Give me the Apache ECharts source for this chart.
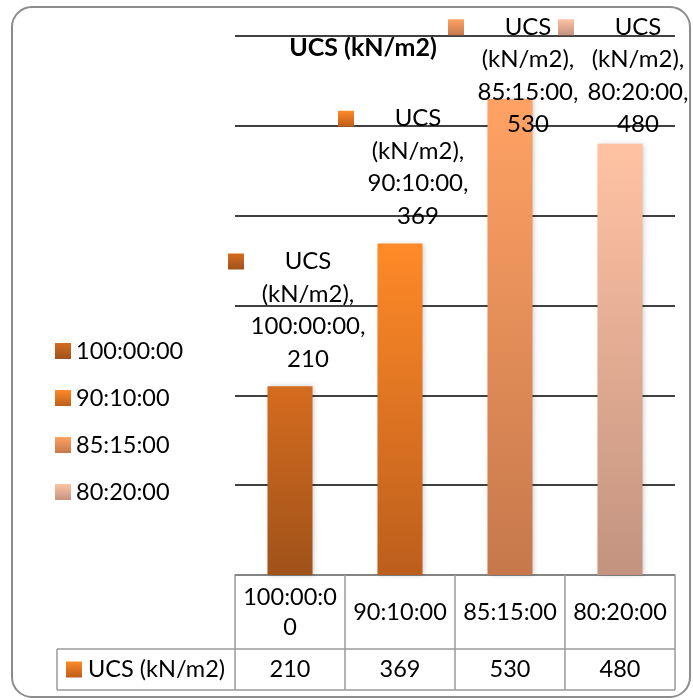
<!DOCTYPE html>
<html>
<head>
<meta charset="utf-8">
<script src="https://cdn.jsdelivr.net/npm/echarts@6/dist/echarts.min.js"></script>
<style>
  html, body { margin: 0; padding: 0; background: #fff; }
  #chart { width: 693px; height: 700px; }
</style>
</head>
<body>
<div id="chart"></div>
<script>
// Mix ratios and measured UCS values
const categories = ['100:00:00', '90:10:00', '85:15:00', '80:20:00'];
const ucsValues = [210, 369, 530, 480];
const measureName = 'UCS (kN/m2)';
const yMin = 0, yMax = 600, yStep = 100;

// top / bottom shades of each bar
const shades = [
  ['#D56C1F', '#A0521A'],
  ['#FF8A28', '#BC5E1C'],
  ['#FFA264', '#C6784C'],
  ['#FFC3A3', '#C39380']
];
const FONT = 'Lato, "Open Sans", sans-serif';
const LABEL_SIZE = 24;
const LABEL_LINE = 32.5;
const LABEL_LINES = 4;
const LABEL_GAP = 11;       // space between bar top and its label
const LABEL_MIN_TOP = 11;   // labels never rise above this

function grad(c) {
  return new echarts.graphic.LinearGradient(0, 0, 0, 1, [
    { offset: 0, color: c[0] }, { offset: 1, color: c[1] }
  ]);
}

const chart = echarts.init(document.getElementById('chart'), null, { renderer: 'canvas' });

const gridLeft = 235, gridRight = 18, gridTop = 36, gridBottom = 125;
const [nameHead, nameUnit] = measureName.split(' ');

function makeSeries(offsets) {
  return categories.map((cat, i) => ({
    name: cat,
    type: 'bar',
    stack: 'ucs',
    barWidth: 45,
    data: ucsValues.map((v, j) => (j === i ? v : '-')),
    itemStyle: {
      color: grad(shades[i]),
      shadowBlur: 5,
      shadowColor: 'rgba(0,0,0,0.22)',
      shadowOffsetX: 1,
      shadowOffsetY: 0
    },
    label: {
      show: true,
      position: 'top',
      distance: LABEL_GAP,
      offset: [18, offsets[i]],
      color: '#000',
      fontFamily: FONT,
      fontSize: LABEL_SIZE,
      lineHeight: LABEL_LINE,
      align: 'center',
      formatter: p => `{k|}{u|${nameHead}}{e|}\n${nameUnit},\n${p.name},\n${p.value}`,
      rich: {
        k: { width: 16, height: 16, backgroundColor: grad(shades[i]), verticalAlign: 'middle' },
        u: { width: 128, align: 'center', fontFamily: FONT, fontSize: LABEL_SIZE, color: '#000' },
        e: { width: 16 }
      }
    }
  }));
}

const option = {
  backgroundColor: '#fff',
  animation: false,
  title: {
    text: measureName,
    left: 358,
    top: 30,
    textAlign: 'center',
    textStyle: { fontFamily: FONT, fontSize: 25, fontWeight: 'bold', color: '#000' }
  },
  legend: {
    orient: 'vertical',
    left: 55,
    top: 339,
    padding: 0,
    itemWidth: 16,
    itemHeight: 16,
    itemGap: 23,
    icon: 'rect',
    data: categories,
    textStyle: { fontFamily: FONT, fontSize: 23.5, lineHeight: 24, color: '#000' }
  },
  grid: { left: gridLeft, right: gridRight, top: gridTop, bottom: gridBottom, containLabel: false },
  xAxis: {
    type: 'category',
    data: categories,
    axisLine: { show: true, lineStyle: { color: '#9a9a9a', width: 1.5 } },
    axisTick: { show: true, interval: 0, length: 115, lineStyle: { color: '#9a9a9a', width: 1.5 } },
    axisLabel: {
      interval: 0,
      margin: 37,
      verticalAlign: 'middle',
      width: 98,
      overflow: 'breakAll',
      fontFamily: FONT,
      fontSize: 23.5,
      lineHeight: 30,
      color: '#000'
    }
  },
  yAxis: {
    type: 'value',
    min: yMin,
    max: yMax,
    interval: yStep,
    axisLine: { show: false },
    axisTick: { show: false },
    axisLabel: { show: false },
    splitLine: { show: true, lineStyle: { color: '#000', width: 1.5 } }
  },
  series: makeSeries(categories.map(() => 0))
};

chart.setOption(option);

// push labels of tall bars down so they stay inside the chart
const labelHeight = LABEL_LINES * LABEL_LINE;
const offsets = ucsValues.map(v => {
  const barTop = chart.convertToPixel({ yAxisIndex: 0 }, v);
  const naturalTop = barTop - LABEL_GAP - labelHeight;
  return Math.max(0, LABEL_MIN_TOP - naturalTop);
});
chart.setOption({ series: makeSeries(offsets) });

// data table below the axis: legend-key cell and value row
const axisY = chart.convertToPixel({ yAxisIndex: 0 }, yMin);
const row1Bottom = axisY + 74;
const row2Bottom = axisY + 115;
const tableLeft = 57;
const tableRight = chart.getWidth() - gridRight;
const row2Mid = (row1Bottom + row2Bottom) / 2;
const border = { stroke: '#9a9a9a', lineWidth: 1.5 };

const graphics = [
  {
    type: 'rect', silent: true,
    shape: { x: 12, y: 7, width: 678, height: 690, r: 20 },
    style: { fill: null, stroke: '#8c8c8c', lineWidth: 2 }
  },
  { type: 'line', shape: { x1: tableLeft, y1: row1Bottom, x2: tableRight, y2: row1Bottom }, style: border },
  { type: 'line', shape: { x1: tableLeft, y1: row2Bottom, x2: tableRight, y2: row2Bottom }, style: border },
  { type: 'line', shape: { x1: tableLeft, y1: row1Bottom, x2: tableLeft, y2: row2Bottom }, style: border },
  {
    type: 'rect',
    shape: { x: 66, y: row2Mid - 8, width: 16, height: 16 },
    style: { fill: grad(shades[1]) }
  },
  {
    type: 'text',
    x: 88, y: row2Mid,
    style: { text: measureName, fontFamily: FONT, fontSize: 23.5, fill: '#000', verticalAlign: 'middle', align: 'left' }
  }
];

categories.forEach((cat, i) => {
  const cx = chart.convertToPixel({ xAxisIndex: 0 }, cat);
  graphics.push({
    type: 'text',
    x: cx, y: row2Mid,
    style: { text: String(ucsValues[i]), fontFamily: FONT, fontSize: 23.5, fill: '#000', align: 'center', verticalAlign: 'middle' }
  });
});

chart.setOption({ graphic: graphics });
</script>
</body>
</html>
